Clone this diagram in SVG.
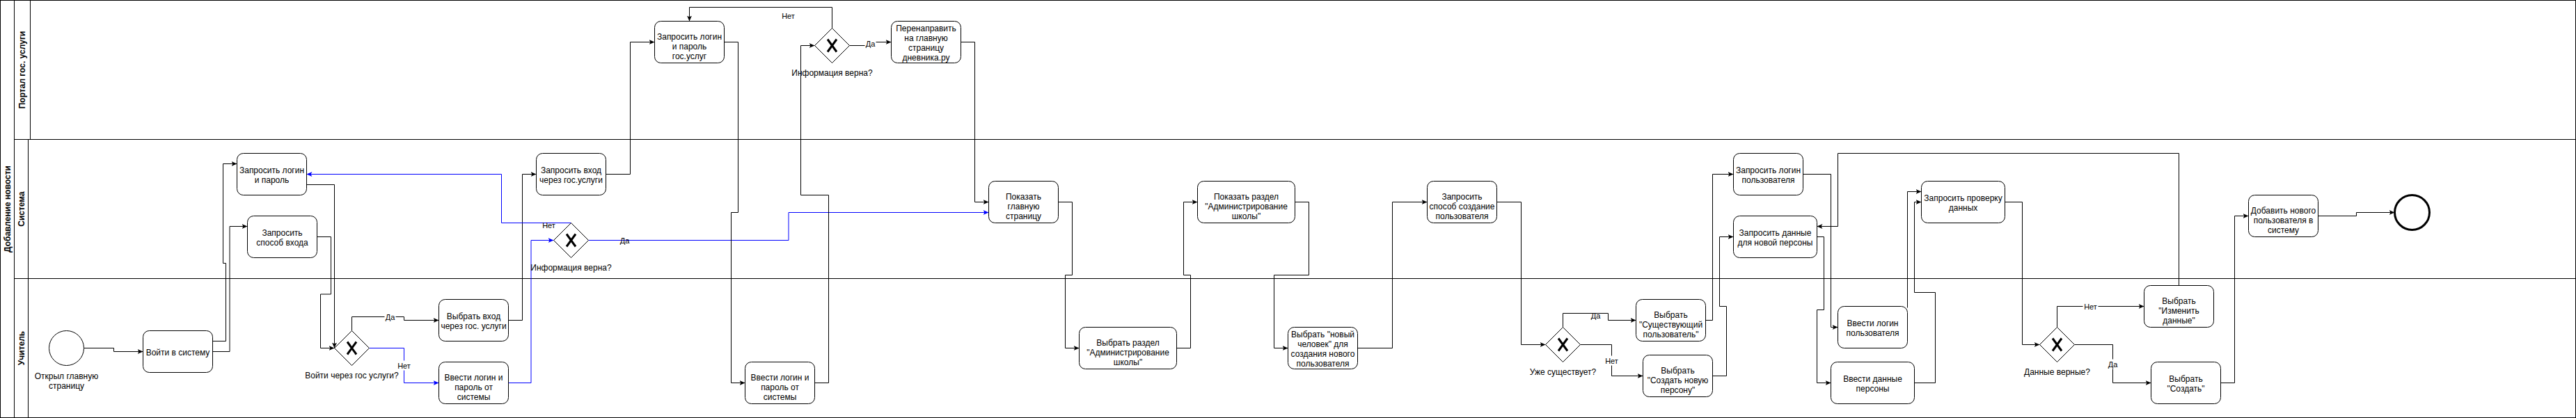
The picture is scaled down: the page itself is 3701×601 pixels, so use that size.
<svg xmlns="http://www.w3.org/2000/svg" width="3701" height="601" viewBox="0 0 3701 601">
<style>
.frame{fill:none;stroke:#000;stroke-width:1}
.task rect{fill:#fff;stroke:#000;stroke-width:1}
.gw polygon{fill:#fff;stroke:#000;stroke-width:1}
.gw path{fill:none;stroke:#000;stroke-width:3}
.t{font-family:"Liberation Sans",Arial,Helvetica,sans-serif;font-size:12px;text-anchor:middle;fill:#000}
.lane{font-family:"Liberation Sans",Arial,Helvetica,sans-serif;font-size:12px;font-weight:bold;text-anchor:middle;fill:#000}
.el{font-family:"Liberation Sans",Arial,Helvetica,sans-serif;font-size:11px;text-anchor:middle;fill:#000}
.e{fill:none;stroke:#000;stroke-width:1;marker-end:url(#ab)}
.b{fill:none;stroke:#0000ff;stroke-width:1;marker-end:url(#abl)}
.bg{fill:#fff}
</style>
<defs>
<marker id="ab" markerUnits="userSpaceOnUse" viewBox="0 0 8 7" markerWidth="8" markerHeight="7" refX="8" refY="3.5" orient="auto"><path d="M0,0 L8,3.5 L0,7 L2,3.5 Z" fill="#000"/></marker>
<marker id="abl" markerUnits="userSpaceOnUse" viewBox="0 0 8 7" markerWidth="8" markerHeight="7" refX="8" refY="3.5" orient="auto"><path d="M0,0 L8,3.5 L0,7 L2,3.5 Z" fill="#0000ff"/></marker>
</defs>
<rect x="0" y="0" width="3701" height="601" fill="#fff"/>
<g transform="translate(0.5,0.5)">
<g id="pool">
<rect class="frame" x="0" y="0" width="3700" height="600"/>
<line class="frame" x1="20" y1="0" x2="20" y2="600"/>
<line class="frame" x1="20" y1="200" x2="3700" y2="200"/>
<line class="frame" x1="20" y1="400" x2="3700" y2="400"/>
<line class="frame" x1="43" y1="0" x2="43" y2="200"/>
<line class="frame" x1="40" y1="200" x2="40" y2="600"/>
<text class="lane" transform="translate(10,300) rotate(-90)" x="0" y="4">Добавление новости</text>
<text class="lane" transform="translate(31.5,100) rotate(-90)" x="0" y="4">Портал гос. услуги</text>
<text class="lane" transform="translate(30,300) rotate(-90)" x="0" y="4">Система</text>
<text class="lane" transform="translate(30,500) rotate(-90)" x="0" y="4">Учитель</text>
</g>
<g id="connectors">
<path class="e" d="M120,500 H163 V505 H205"/>
<path class="e" d="M305,490 H324 V378 H320 V235 H340"/>
<path class="e" d="M305,505 H329.5 V325 H355"/>
<path class="e" d="M440,265 H480 V500"/>
<path class="e" d="M455,340 H475 V422.5 H460 V500 H480"/>
<path class="e" d="M505,475 V455 H580 V460 H630"/>
<rect class="bg" x="552" y="448" width="16" height="14"/>
<text class="el" x="560" y="459">Да</text>
<path class="b" d="M530,500 H580 V550 H630"/>
<rect class="bg" x="569" y="518" width="22" height="14"/>
<text class="el" x="580" y="529">Нет</text>
<path class="e" d="M730,460 H750 V250 H770"/>
<path class="b" d="M730,550 H762.5 V345 H795"/>
<path class="b" d="M820,320 H720 V250 H440"/>
<text class="el" x="788" y="327">Нет</text>
<path class="b" d="M845,345 H1132.5 V305 H1420"/>
<text class="el" x="897" y="349">Да</text>
<path class="e" d="M870,250 H905 V60 H940"/>
<path class="e" d="M1040,60 H1060 V305 H1050 V550 H1070"/>
<path class="e" d="M1170,550 H1190 V280 H1150 V65 H1170"/>
<path class="e" d="M1195,40 V10 H990 V30"/>
<text class="el" x="1132" y="26">Нет</text>
<path class="e" d="M1220,65 H1250 V60 H1280"/>
<rect class="bg" x="1242" y="55" width="16" height="14"/>
<text class="el" x="1250" y="66">Да</text>
<path class="e" d="M1380,60 H1400 V290 H1420"/>
<path class="e" d="M1520,290 H1540 V395 H1530 V500 H1550"/>
<path class="e" d="M1690,500 H1710 V395 H1700 V290 H1720"/>
<path class="e" d="M1860,290 H1880 V395 H1830 V500 H1850"/>
<path class="e" d="M1950,500 H2000 V290 H2050"/>
<path class="e" d="M2150,290 H2185 V495 H2220"/>
<path class="e" d="M2245,470 V450 H2310 V460 H2350"/>
<text class="el" x="2292" y="457">Да</text>
<path class="e" d="M2270,495 H2315 V540 H2360"/>
<rect class="bg" x="2304" y="511" width="22" height="14"/>
<text class="el" x="2315" y="522">Нет</text>
<path class="e" d="M2450,460 H2460 V250 H2490"/>
<path class="e" d="M2460,540 H2480 V440 H2470 V340 H2490"/>
<path class="e" d="M2590,250 H2630 V470 H2640"/>
<path class="e" d="M2610,340 H2620 V445 H2610 V550 H2630"/>
<path class="e" d="M2740,442 V275 H2760"/>
<path class="e" d="M2750,550 H2780 V420 H2750 V290 H2760"/>
<path class="e" d="M2880,290 H2905 V495 H2930"/>
<path class="e" d="M2955,470 V440 H3080"/>
<rect class="bg" x="2992" y="433" width="22" height="14"/>
<text class="el" x="3003" y="444">Нет</text>
<path class="e" d="M2980,495 H3035 V550 H3090"/>
<rect class="bg" x="3027" y="516" width="16" height="14"/>
<text class="el" x="3035" y="527">Да</text>
<path class="e" d="M3130,410 V220 H2640 V325 H2610"/>
<path class="e" d="M3190,550 H3210 V310 H3230"/>
<path class="e" d="M3330,310 H3385 V305 H3440"/>
</g>
<g id="start">
<circle cx="95" cy="500" r="25" fill="#fff" stroke="#000" stroke-width="1"/>
<text class="t" x="95" y="544">Открыл главную</text>
<text class="t" x="95" y="558">страницу</text>
</g>
<g id="t1" class="task"><rect x="205" y="475" width="100" height="60" rx="9"/><text class="t" x="255" y="510">Войти в систему</text></g>
<g id="t2" class="task"><rect x="340" y="220" width="100" height="60" rx="9"/><text class="t" x="390" y="248">Запросить логин</text><text class="t" x="390" y="262">и пароль</text></g>
<g id="t3" class="task"><rect x="355" y="310" width="100" height="60" rx="9"/><text class="t" x="405" y="338">Запросить</text><text class="t" x="405" y="352">способ входа</text></g>
<g id="g1" class="gw"><polygon points="505,475 530,500 505,525 480,500"/><path d="M498.5,491 L511.5,509 M511.5,491 L498.5,509"/><text class="t" x="505" y="543">Войти через гос услуги?</text></g>
<g id="t4" class="task"><rect x="630" y="430" width="100" height="60" rx="9"/><text class="t" x="680" y="458">Выбрать вход</text><text class="t" x="680" y="472">через гос. услуги</text></g>
<g id="t5" class="task"><rect x="630" y="520" width="100" height="60" rx="9"/><text class="t" x="680" y="546">Ввести логин и</text><text class="t" x="680" y="560">пароль от</text><text class="t" x="680" y="574">системы</text></g>
<g id="t6" class="task"><rect x="770" y="220" width="100" height="60" rx="9"/><text class="t" x="820" y="248">Запросить вход</text><text class="t" x="820" y="262">через гос.услуги</text></g>
<g id="g2" class="gw"><polygon points="820,320 845,345 820,370 795,345"/><path d="M813.5,336 L826.5,354 M826.5,336 L813.5,354"/><text class="t" x="820" y="388">Информация верна?</text></g>
<g id="t7" class="task"><rect x="940" y="30" width="100" height="60" rx="9"/><text class="t" x="990" y="56">Запросить логин</text><text class="t" x="990" y="70">и пароль</text><text class="t" x="990" y="84">гос.услуг</text></g>
<g id="g3" class="gw"><polygon points="1195,40 1220,65 1195,90 1170,65"/><path d="M1188.5,56 L1201.5,74 M1201.5,56 L1188.5,74"/><text class="t" x="1195" y="108">Информация верна?</text></g>
<g id="t8" class="task"><rect x="1280" y="30" width="100" height="60" rx="9"/><text class="t" x="1330" y="44">Перенаправить</text><text class="t" x="1330" y="58">на главную</text><text class="t" x="1330" y="72">страницу</text><text class="t" x="1330" y="86">дневника.ру</text></g>
<g id="t9" class="task"><rect x="1070" y="520" width="100" height="60" rx="9"/><text class="t" x="1120" y="546">Ввести логин и</text><text class="t" x="1120" y="560">пароль от</text><text class="t" x="1120" y="574">системы</text></g>
<g id="t10" class="task"><rect x="1420" y="260" width="100" height="60" rx="9"/><text class="t" x="1470" y="286">Показать</text><text class="t" x="1470" y="300">главную</text><text class="t" x="1470" y="314">страницу</text></g>
<g id="t11" class="task"><rect x="1550" y="470" width="140" height="60" rx="9"/><text class="t" x="1620" y="496">Выбрать раздел</text><text class="t" x="1620" y="510">"Администрирование</text><text class="t" x="1620" y="524">школы"</text></g>
<g id="t12" class="task"><rect x="1720" y="260" width="140" height="60" rx="9"/><text class="t" x="1790" y="286">Показать раздел</text><text class="t" x="1790" y="300">"Администрирование</text><text class="t" x="1790" y="314">школы"</text></g>
<g id="t13" class="task"><rect x="1850" y="470" width="100" height="60" rx="9"/><text class="t" x="1900" y="484">Выбрать "новый</text><text class="t" x="1900" y="498">человек" для</text><text class="t" x="1900" y="512">создания нового</text><text class="t" x="1900" y="526">пользователя</text></g>
<g id="t14" class="task"><rect x="2050" y="260" width="100" height="60" rx="9"/><text class="t" x="2100" y="286">Запросить</text><text class="t" x="2100" y="300">способ создание</text><text class="t" x="2100" y="314">пользователя</text></g>
<g id="g4" class="gw"><polygon points="2245,470 2270,495 2245,520 2220,495"/><path d="M2238.5,486 L2251.5,504 M2251.5,486 L2238.5,504"/><text class="t" x="2245" y="538">Уже существует?</text></g>
<g id="t15" class="task"><rect x="2350" y="430" width="100" height="60" rx="9"/><text class="t" x="2400" y="456">Выбрать</text><text class="t" x="2400" y="470">"Существующий</text><text class="t" x="2400" y="484">пользователь"</text></g>
<g id="t16" class="task"><rect x="2360" y="510" width="100" height="60" rx="9"/><text class="t" x="2410" y="536">Выбрать</text><text class="t" x="2410" y="550">"Создать новую</text><text class="t" x="2410" y="564">персону"</text></g>
<g id="t17" class="task"><rect x="2490" y="220" width="100" height="60" rx="9"/><text class="t" x="2540" y="248">Запросить логин</text><text class="t" x="2540" y="262">пользователя</text></g>
<g id="t18" class="task"><rect x="2490" y="310" width="120" height="60" rx="9"/><text class="t" x="2550" y="338">Запросить данные</text><text class="t" x="2550" y="352">для новой персоны</text></g>
<g id="t19" class="task"><rect x="2640" y="440" width="100" height="60" rx="9"/><text class="t" x="2690" y="468">Ввести логин</text><text class="t" x="2690" y="482">пользователя</text></g>
<g id="t20" class="task"><rect x="2630" y="520" width="120" height="60" rx="9"/><text class="t" x="2690" y="548">Ввести данные</text><text class="t" x="2690" y="562">персоны</text></g>
<g id="t21" class="task"><rect x="2760" y="260" width="120" height="60" rx="9"/><text class="t" x="2820" y="288">Запросить проверку</text><text class="t" x="2820" y="302">данных</text></g>
<g id="g5" class="gw"><polygon points="2955,470 2980,495 2955,520 2930,495"/><path d="M2948.5,486 L2961.5,504 M2961.5,486 L2948.5,504"/><text class="t" x="2955" y="538">Данные верные?</text></g>
<g id="t22" class="task"><rect x="3080" y="410" width="100" height="60" rx="9"/><text class="t" x="3130" y="436">Выбрать</text><text class="t" x="3130" y="450">"Изменить</text><text class="t" x="3130" y="464">данные"</text></g>
<g id="t23" class="task"><rect x="3090" y="520" width="100" height="60" rx="9"/><text class="t" x="3140" y="548">Выбрать</text><text class="t" x="3140" y="562">"Создать"</text></g>
<g id="t24" class="task"><rect x="3230" y="280" width="100" height="60" rx="9"/><text class="t" x="3280" y="306">Добавить нового</text><text class="t" x="3280" y="320">пользователя в</text><text class="t" x="3280" y="334">систему</text></g>
<g id="end"><circle cx="3465" cy="305" r="25" fill="#fff" stroke="#000" stroke-width="3"/></g>
</g>
</svg>
